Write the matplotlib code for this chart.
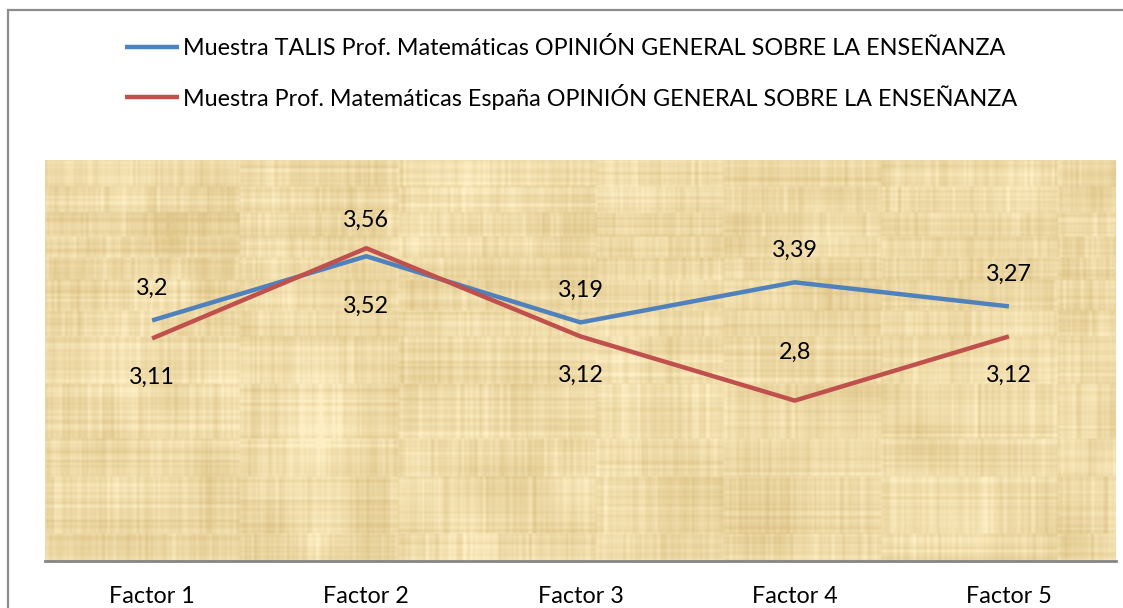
import numpy as np
import matplotlib
matplotlib.use("Agg")
import matplotlib.pyplot as plt
from matplotlib.patches import Rectangle

plt.rcParams['font.family'] = ['Lato', 'DejaVu Sans']

categories = ["Factor 1", "Factor 2", "Factor 3", "Factor 4", "Factor 5"]
talis_label = "Muestra TALIS Prof. Matemáticas OPINIÓN GENERAL SOBRE LA ENSEÑANZA"
spain_label = "Muestra Prof. Matemáticas España OPINIÓN GENERAL SOBRE LA ENSEÑANZA"
talis_values = [3.20, 3.52, 3.19, 3.39, 3.27]
spain_values = [3.11, 3.56, 3.12, 2.80, 3.12]
# label placement relative to each point: +1 above, -1 below
talis_label_side = [1, -1, 1, 1, 1]
spain_label_side = [-1, 1, -1, 1, -1]

BLUE = "#4F81BD"
RED = "#C0504D"
FS = 16.8


def papyrus_texture(h, w, seed=11):
    rng = np.random.default_rng(seed)

    def smooth(a, k, axis):
        kern = np.ones(k) / k
        return np.apply_along_axis(lambda v: np.convolve(v, kern, mode="same"), axis, a)

    tex = np.zeros((h, w))
    # horizontal bands, each with its own vertical fibre pattern
    y = 0
    while y < h:
        bh = int(rng.integers(20, 70))
        cols = smooth(rng.normal(0, 1, (1, w)), 3, 1)
        tex[y:y + bh, :] += 0.8 * cols
        y += bh
    # vertical bands, each with its own horizontal fibre pattern
    x = 0
    while x < w:
        bw = int(rng.integers(60, 200))
        rows = smooth(rng.normal(0, 1, (h, 1)), 3, 0)
        tex[:, x:x + bw] += 0.8 * rows
        x += bw
    # broad, soft blotches
    coarse = rng.normal(0, 1, (h // 50 + 2, w // 50 + 2))
    coarse = np.kron(coarse, np.ones((50, 50)))[:h, :w]
    coarse = smooth(smooth(coarse, 41, 0), 41, 1)
    tex += 0.9 * coarse / coarse.std() * 0.5
    tex = smooth(smooth(tex, 2, 0), 2, 1)
    tex = (tex - tex.mean()) / tex.std()
    base = np.array([238, 218, 167]) / 255.0
    step = np.array([0.020, 0.027, 0.038])
    img = base[None, None, :] - np.clip(tex, -3, 3)[..., None] * step[None, None, :]
    return np.clip(img, 0, 1)


fig = plt.figure(figsize=(11.23, 6.08), dpi=100)

# outer chart frame (runs off the right and bottom edges)
fig.add_artist(Rectangle((8 / 1123, -0.05), 1.2, 1 - 10 / 608 + 0.05,
                         transform=fig.transFigure, fill=False,
                         edgecolor="#8c8c8c", linewidth=1.6))

ax = fig.add_axes([45 / 1123, 47 / 608, 1071 / 1123, 401 / 608])
x = np.arange(1, len(categories) + 1)
ax.set_xlim(0.5, len(categories) + 0.5)
ax.set_ylim(2.0, 4.0)

ax.imshow(papyrus_texture(401, 1071), extent=(0.5, len(categories) + 0.5, 2.0, 4.0),
          aspect="auto", interpolation="bilinear", zorder=0)

l1, = ax.plot(x, talis_values, color=BLUE, linewidth=3.2, solid_capstyle="butt",
              solid_joinstyle="round", label=talis_label, zorder=3)
l2, = ax.plot(x, spain_values, color=RED, linewidth=3.2, solid_capstyle="butt",
              solid_joinstyle="round", label=spain_label, zorder=3)

for xi, v, s in zip(x, talis_values, talis_label_side):
    off = 23 if s > 0 else -36
    ax.annotate(f"{v:g}".replace(".", ","), (xi, v), xytext=(0, off),
                textcoords="offset points", ha="center", va="center", fontsize=FS)
for xi, v, s in zip(x, spain_values, spain_label_side):
    off = (20 if v > 3.3 else 35) if s > 0 else -28
    ax.annotate(f"{v:g}".replace(".", ","), (xi, v), xytext=(0, off),
                textcoords="offset points", ha="center", va="center", fontsize=FS)

ax.set_xticks(x)
ax.set_xticklabels(categories, fontsize=FS)
ax.set_yticks([])
ax.tick_params(axis="x", length=0, pad=18)
for side in ("top", "left", "right"):
    ax.spines[side].set_visible(False)
ax.spines["bottom"].set_color("#868686")
ax.spines["bottom"].set_linewidth(2.0)

fig.legend(handles=[l1, l2], loc="upper left", bbox_to_anchor=(125 / 1123, 1 - 37 / 608),
           frameon=False, fontsize=FS, handlelength=2.3, handletextpad=0.2,
           labelspacing=1.05, borderpad=0, borderaxespad=0)

fig.savefig("out.png", dpi=100)
